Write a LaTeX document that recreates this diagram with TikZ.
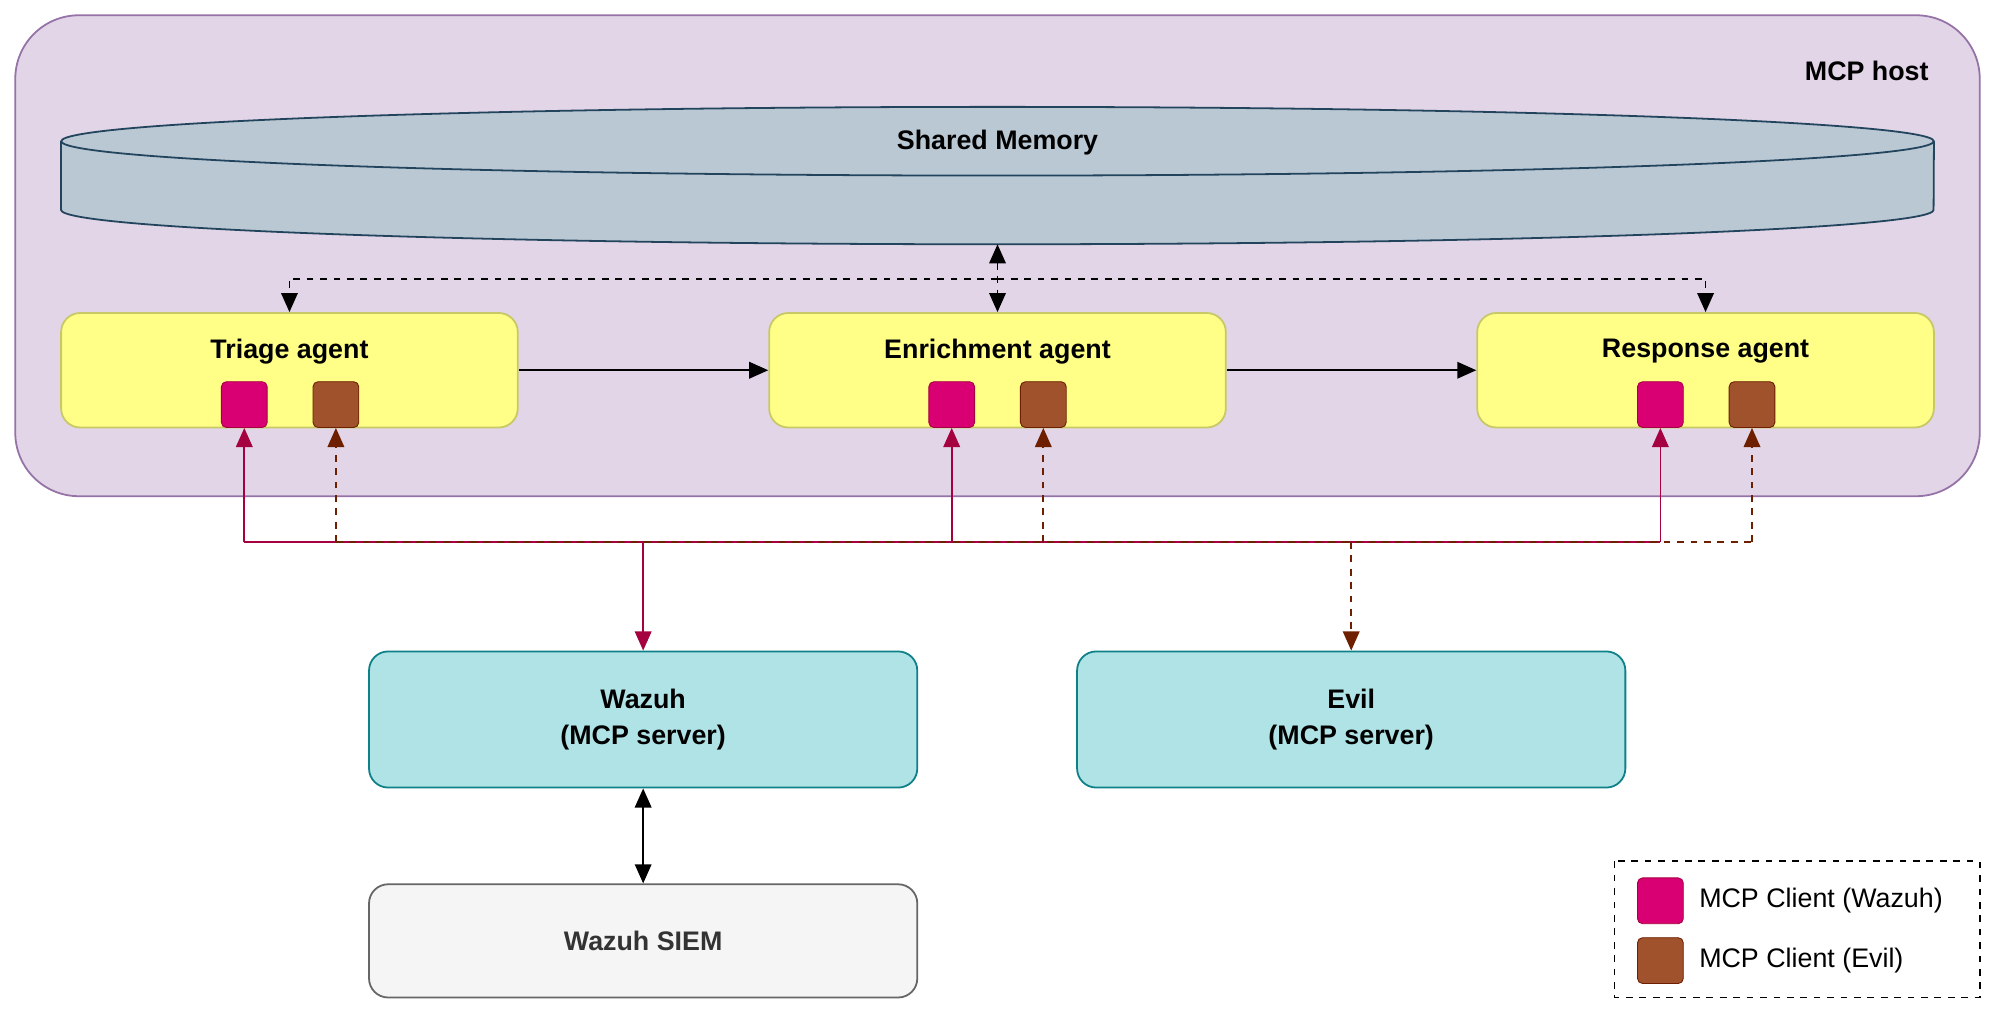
\documentclass[tikz,border=0pt]{standalone}
\usepackage{fontspec}
\setmainfont{Liberation Sans}
\usetikzlibrary{arrows.meta,positioning}
\definecolor{hostfill}{HTML}{E1D5E7}
\definecolor{hostdraw}{HTML}{9673A6}
\definecolor{memfill}{HTML}{BAC8D3}
\definecolor{memdraw}{HTML}{23445D}
\definecolor{agentfill}{HTML}{FFFF88}
\definecolor{agentdraw}{HTML}{C8C866}
\definecolor{wazuhfill}{HTML}{D80073}
\definecolor{wazuhdraw}{HTML}{A50040}
\definecolor{evilfill}{HTML}{A0522D}
\definecolor{evildraw}{HTML}{6D1F00}
\definecolor{srvfill}{HTML}{B0E3E6}
\definecolor{srvdraw}{HTML}{0E8088}
\tikzset{
  agent/.style = {draw = agentdraw, fill = agentfill, thick, rounded corners = 0.3cm, minimum width = 7.18cm, minimum height = 1.8cm},
  server/.style = {draw = srvdraw, fill = srvfill, thick, rounded corners = 0.3cm, minimum width = 8.62cm, minimum height = 2.14cm, align = center, font = \bfseries\fontsize{12}{16}\selectfont},
  title/.style = {font = \bfseries\fontsize{12}{15}\selectfont},
  wclient/.style = {draw = wazuhdraw, fill = wazuhfill, rounded corners = 0.08cm, minimum size = 0.72cm, inner sep = 0pt},
  eclient/.style = {draw = evildraw, fill = evilfill, rounded corners = 0.08cm, minimum size = 0.72cm, inner sep = 0pt},
  tip/.style = {-{Triangle[length = 0.3cm, width = 0.26cm]}},
}
\begin{document}
\begin{tikzpicture}[x = 0.02cm, y = -0.02cm]
	\useasboundingbox (0,0) rectangle (1568,797);
	
	% host
	\draw[hostdraw, fill = hostfill, thick, rounded corners = 1cm] (12,12) rectangle (1556,390);
	\node[title, anchor = east] (host) at (1522,56) {MCP host};
	
	% shared memory
	\draw[memdraw, fill = memfill, thick] (48,111) -- (48,165) arc[start angle = 180, end angle = 360, x radius = 14.72cm, y radius = 0.54cm] -- (1520,111);
	\draw[memdraw, fill = memfill, thick] (784,111) ellipse[x radius = 14.72cm, y radius = 0.54cm];
	\node[title] (mem) at (784,112) {Shared Memory};
	\coordinate (membot) at (784,192);
	
	% agents
	\node[agent] (triage) at (227.5,291) {};
	\node[agent] (enrich) at (784,291) {};
	\node[agent] (resp) at (1340.5,291) {};
	\node[title] at ([yshift = -0.62cm]triage.north) {Triage agent};
	\node[title] at ([yshift = -0.62cm]enrich.north) {Enrichment agent};
	\node[title] at ([yshift = -0.62cm]resp.north) {Response agent};
	
	\node[wclient] (tw) at (192,318) {};
	\node[eclient] (te) at (264,318) {};
	\node[wclient] (ew) at (748,318) {};
	\node[eclient] (ee) at (820,318) {};
	\node[wclient] (rw) at (1305,318) {};
	\node[eclient] (re) at (1377,318) {};
	
	\draw[tip, thick] (triage) -- (enrich);
	\draw[tip, thick] (enrich) -- (resp);
	
	% memory links
	\coordinate (mj) at (784,219);
	\draw[{Triangle[length = 0.3cm, width = 0.26cm]}-{Triangle[length = 0.3cm, width = 0.26cm]}, thick, dashed] (membot) -- (enrich.north);
	\draw[tip, thick, dashed] (mj) -| (triage.north);
	\draw[tip, thick, dashed] (mj) -| (resp.north);
	
	% servers
	\node[server] (wazuh) at (505.5,565.5) {Wazuh\\(MCP server)};
	\node[server] (evil) at (1062,565.5) {Evil\\(MCP server)};
	\node[draw = black!60, fill = black!4, thick, rounded corners = 0.3cm, minimum width = 8.62cm, minimum height = 1.78cm, font = \bfseries\fontsize{12}{15}\selectfont, text = black!80] (siem) at (505.5,739.5) {Wazuh SIEM};
	\draw[{Triangle[length = 0.3cm, width = 0.26cm]}-{Triangle[length = 0.3cm, width = 0.26cm]}, thick] (wazuh) -- (siem);
	
	% client links
	\coordinate (wj) at (505.5,426);
	\coordinate (ej) at (1062,426);
	\draw[wazuhdraw, thick] (192,426) -- (1305,426);
	\draw[evildraw, thick, dashed] (264,426) -- (1377,426);
	\draw[tip, wazuhdraw, thick] (wj) -- (wazuh.north);
	\draw[tip, evildraw, thick, dashed] (ej) -- (evil.north);
	\foreach \c in {tw, ew, rw}
		\draw[tip, wazuhdraw, thick] (\c.south |- wj) -- (\c.south);
	\foreach \c in {te, ee, re}
		\draw[tip, evildraw, thick, dashed] (\c.south |- wj) -- (\c.south);
	
	% legend
	\draw[thick, dashed] (1269,677) rectangle (1556,784);
	\node[wclient] (lw) at (1305,708) {};
	\node[eclient] (le) at (1305,755) {};
	\node[right = 0.12cm of lw, font = \fontsize{12}{15}\selectfont] {MCP Client (Wazuh)};
	\node[right = 0.12cm of le, font = \fontsize{12}{15}\selectfont] {MCP Client (Evil)};
\end{tikzpicture}
\end{document}
